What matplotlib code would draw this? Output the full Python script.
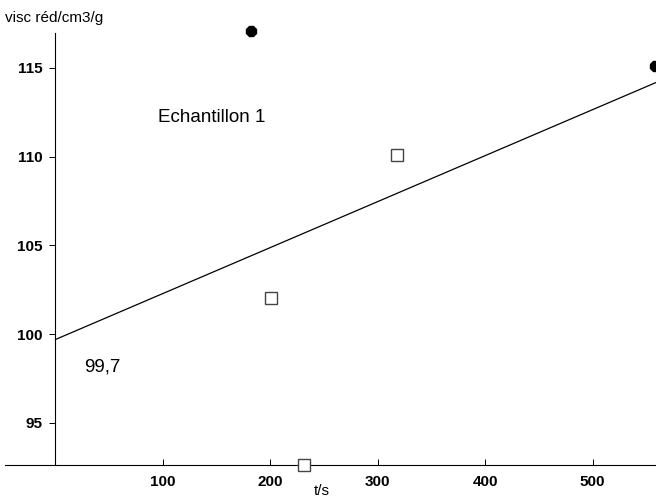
import matplotlib.pyplot as plt
import numpy as np

plt.rcParams['font.family'] = ['Liberation Sans', 'DejaVu Sans']

# points
t_filled = [182, 558]
visc_filled = [117.1, 115.1]
t_open = [318, 201, 231]
visc_open = [110.1, 102.05, 92.65]

# fitted line
intercept = 99.7
slope = 0.0259
t_line = np.array([0, 559])

fig = plt.figure(figsize=(6.56, 5.01), dpi=100)
ax = fig.add_axes([0.0076, 0.0719, 0.9924, 0.8623])

ax.plot(t_line, intercept + slope * t_line, color='black', lw=0.9)
ax.plot(t_open, visc_open, linestyle='none', marker='s', markersize=8,
        markerfacecolor='white', markeredgecolor='#444444', markeredgewidth=1.0,
        clip_on=False, zorder=3)
ax.plot(t_filled, visc_filled, linestyle='none', marker='8', markersize=8,
        color='black', clip_on=False, zorder=3)

ax.set_xlim(-47, 559)
ax.set_ylim(92.63, 116.97)

ax.spines['left'].set_position(('data', 0))
ax.spines['top'].set_visible(False)
ax.spines['right'].set_visible(False)
ax.spines['left'].set_linewidth(0.8)
ax.spines['bottom'].set_linewidth(0.8)

ax.set_xticks([100, 200, 300, 400, 500])
ax.set_yticks([95, 100, 105, 110, 115])
ax.tick_params(axis='x', direction='in', length=4, width=0.7, labelsize=11, pad=7)
ax.tick_params(axis='y', direction='out', length=4, width=0.7, labelsize=11, pad=5)
for lab in ax.get_xticklabels() + ax.get_yticklabels():
    lab.set_fontweight('bold')

ax.text(145, 112.2, 'Echantillon 1', fontsize=13.5, ha='center', va='center')
ax.text(44, 98.15, '99,7', fontsize=13.5, ha='center', va='center')

fig.text(5 / 656, 1 - 18 / 501, 'visc réd/cm3/g', fontsize=11, ha='left', va='center')
fig.text(322 / 656, 1 - 491 / 501, 't/s', fontsize=11, ha='center', va='center')

fig.savefig('out.png', dpi=100)
